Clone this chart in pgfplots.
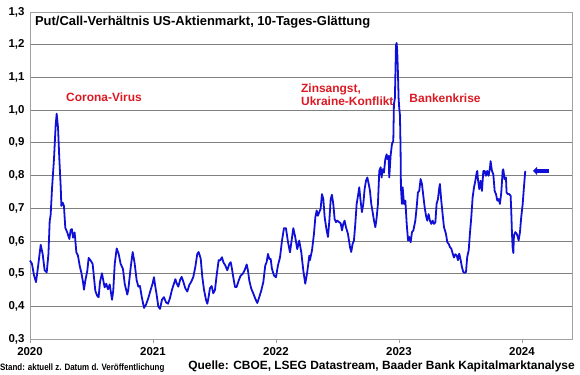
\documentclass[border=0pt]{standalone}
\usepackage{fontspec}
\setmainfont{Liberation Sans}
\usepackage{graphicx}
\usepackage{pgfplots}
\pgfplotsset{compat=1.18}
\usetikzlibrary{arrows.meta}
\definecolor{lineblue}{RGB}{15,15,215}
\definecolor{annred}{RGB}{220,25,35}
\definecolor{gridgray}{RGB}{128,128,128}
\definecolor{framegray}{RGB}{160,160,160}
\begin{document}
\begin{tikzpicture}
\begin{axis}[
  scale only axis,
  width=542bp, height=327bp,
  xmin=2020, xmax=2024.407,
  ymin=0.3, ymax=1.3,
  xtick={2020,2021,2022,2023,2024},
  xticklabels={2020,2021,2022,2023,2024},
  ytick={0.3,0.4,0.5,0.6,0.7,0.8,0.9,1.0,1.1,1.2,1.3},
  yticklabel style={/pgf/number format/fixed,/pgf/number format/fixed zerofill,/pgf/number format/precision=1,/pgf/number format/use comma,xshift=-2bp},
  /pgf/number format/assume math mode=true,
  ymajorgrids,
  major grid style={gridgray, line width=0.8pt},
  axis line style={framegray, line width=0.9pt},
  tick style={framegray, line width=0.8pt},
  xtick pos=bottom, ytick pos=left,
  xtick align=outside,
  major tick length=4bp,
  ytick style={draw=none},
  ticklabel style={font=\fontsize{11.5}{13}\selectfont\bfseries},
  xticklabel style={yshift=-1bp},
  clip=false,
]
\addplot[lineblue, line width=1.8pt, line join=round] coordinates {
(2020.000,0.54)(2020.016,0.53)(2020.033,0.494)(2020.049,0.474)(2020.065,0.52)
(2020.087,0.588)(2020.103,0.56)(2020.119,0.51)(2020.136,0.504)(2020.150,0.56)
(2020.160,0.66)(2020.168,0.68)(2020.179,0.76)(2020.195,0.85)(2020.209,0.956)
(2020.217,0.989)(2020.228,0.946)(2020.238,0.855)(2020.250,0.763)(2020.255,0.707)
(2020.266,0.717)(2020.276,0.707)(2020.287,0.64)(2020.303,0.626)(2020.320,0.606)
(2020.331,0.634)(2020.341,0.636)(2020.350,0.61)(2020.363,0.626)(2020.377,0.565)
(2020.390,0.555)(2020.404,0.524)(2020.417,0.504)(2020.431,0.474)(2020.439,0.451)
(2020.450,0.479)(2020.466,0.509)(2020.477,0.548)(2020.493,0.54)(2020.509,0.53)
(2020.520,0.489)(2020.531,0.448)(2020.545,0.433)(2020.558,0.428)(2020.569,0.474)
(2020.585,0.501)(2020.596,0.479)(2020.607,0.458)(2020.620,0.469)(2020.634,0.452)
(2020.648,0.467)(2020.667,0.42)(2020.677,0.448)(2020.689,0.53)(2020.705,0.577)
(2020.721,0.56)(2020.737,0.53)(2020.756,0.514)(2020.770,0.469)(2020.791,0.436)
(2020.799,0.45)(2020.819,0.52)(2020.835,0.566)(2020.851,0.531)(2020.867,0.48)
(2020.881,0.46)(2020.894,0.462)(2020.908,0.43)(2020.927,0.395)(2020.943,0.405)
(2020.962,0.425)(2020.981,0.45)(2020.997,0.47)(2021.008,0.489)(2021.019,0.46)
(2021.030,0.435)(2021.043,0.4)(2021.057,0.392)(2021.073,0.42)(2021.089,0.428)
(2021.106,0.412)(2021.122,0.408)(2021.138,0.425)(2021.154,0.45)(2021.171,0.47)
(2021.182,0.483)(2021.193,0.47)(2021.206,0.46)(2021.220,0.48)(2021.233,0.49)
(2021.247,0.475)(2021.263,0.455)(2021.279,0.445)(2021.295,0.465)(2021.311,0.475)
(2021.328,0.49)(2021.344,0.52)(2021.360,0.56)(2021.371,0.566)(2021.388,0.546)
(2021.401,0.49)(2021.415,0.45)(2021.431,0.42)(2021.442,0.408)(2021.453,0.43)
(2021.463,0.455)(2021.477,0.462)(2021.490,0.44)(2021.504,0.45)(2021.518,0.496)
(2021.534,0.541)(2021.545,0.54)(2021.561,0.55)(2021.572,0.535)(2021.588,0.525)
(2021.604,0.51)(2021.621,0.53)(2021.632,0.535)(2021.642,0.515)(2021.653,0.489)
(2021.667,0.459)(2021.680,0.459)(2021.697,0.479)(2021.713,0.494)(2021.729,0.499)
(2021.745,0.51)(2021.762,0.528)(2021.772,0.51)(2021.783,0.479)(2021.799,0.454)
(2021.816,0.439)(2021.832,0.423)(2021.848,0.41)(2021.864,0.428)(2021.881,0.449)
(2021.897,0.474)(2021.913,0.525)(2021.924,0.535)(2021.935,0.56)(2021.946,0.545)
(2021.957,0.545)(2021.967,0.515)(2021.984,0.494)(2022.000,0.489)(2022.016,0.525)
(2022.033,0.55)(2022.049,0.601)(2022.065,0.639)(2022.081,0.639)(2022.098,0.596)
(2022.114,0.565)(2022.127,0.601)(2022.141,0.639)(2022.157,0.611)(2022.173,0.575)
(2022.189,0.601)(2022.206,0.565)(2022.222,0.51)(2022.238,0.469)(2022.254,0.504)
(2022.271,0.555)(2022.276,0.541)(2022.293,0.571)(2022.309,0.622)(2022.320,0.672)
(2022.331,0.693)(2022.341,0.677)(2022.352,0.688)(2022.363,0.698)(2022.374,0.743)
(2022.385,0.728)(2022.396,0.672)(2022.412,0.632)(2022.423,0.612)(2022.434,0.662)
(2022.445,0.728)(2022.455,0.741)(2022.466,0.713)(2022.477,0.667)(2022.488,0.657)
(2022.498,0.662)(2022.515,0.657)(2022.526,0.654)(2022.537,0.632)(2022.547,0.652)
(2022.558,0.662)(2022.569,0.642)(2022.585,0.622)(2022.602,0.581)(2022.612,0.566)
(2022.623,0.591)(2022.634,0.601)(2022.645,0.652)(2022.656,0.713)(2022.669,0.743)
(2022.677,0.764)(2022.688,0.723)(2022.699,0.688)(2022.710,0.713)(2022.721,0.759)
(2022.732,0.784)(2022.743,0.794)(2022.754,0.774)(2022.764,0.754)(2022.775,0.713)
(2022.786,0.688)(2022.797,0.662)(2022.808,0.642)(2022.819,0.672)(2022.829,0.713)
(2022.840,0.814)(2022.851,0.825)(2022.859,0.794)(2022.867,0.819)(2022.878,0.809)
(2022.889,0.85)(2022.900,0.865)(2022.905,0.85)(2022.916,0.86)(2022.921,0.794)
(2022.932,0.86)(2022.943,0.896)(2022.954,0.906)(2022.959,1.017)(2022.967,1.037)
(2022.976,1.2)(2022.981,1.205)(2022.986,1.18)(2022.992,1.11)(2022.997,1.037)
(2023.002,1.007)(2023.008,0.985)(2023.013,0.885)(2023.016,0.764)(2023.024,0.713)
(2023.030,0.764)(2023.041,0.713)(2023.052,0.723)(2023.063,0.652)(2023.074,0.601)
(2023.084,0.612)(2023.095,0.596)(2023.106,0.627)(2023.117,0.632)(2023.133,0.662)
(2023.144,0.703)(2023.154,0.748)(2023.165,0.753)(2023.176,0.789)(2023.187,0.774)
(2023.198,0.738)(2023.209,0.703)(2023.220,0.677)(2023.230,0.662)(2023.241,0.682)
(2023.252,0.662)(2023.263,0.652)(2023.274,0.662)(2023.285,0.652)(2023.296,0.657)
(2023.306,0.713)(2023.317,0.728)(2023.328,0.763)(2023.333,0.774)(2023.344,0.723)
(2023.355,0.682)(2023.366,0.642)(2023.382,0.622)(2023.393,0.596)(2023.404,0.591)
(2023.415,0.581)(2023.426,0.576)(2023.437,0.561)(2023.447,0.549)(2023.458,0.559)
(2023.469,0.556)(2023.480,0.541)(2023.490,0.561)(2023.502,0.541)(2023.512,0.52)
(2023.523,0.505)(2023.534,0.502)(2023.545,0.505)(2023.555,0.551)(2023.567,0.571)
(2023.577,0.622)(2023.588,0.672)(2023.599,0.733)(2023.610,0.763)(2023.621,0.784)
(2023.632,0.809)(2023.637,0.814)(2023.642,0.789)(2023.653,0.758)(2023.664,0.784)
(2023.675,0.753)(2023.686,0.814)(2023.697,0.814)(2023.707,0.799)(2023.718,0.814)
(2023.729,0.799)(2023.740,0.824)(2023.745,0.844)(2023.756,0.814)(2023.767,0.804)
(2023.778,0.753)(2023.789,0.743)(2023.800,0.723)(2023.811,0.728)(2023.821,0.713)
(2023.832,0.748)(2023.843,0.814)(2023.848,0.819)(2023.859,0.789)(2023.870,0.794)
(2023.875,0.748)(2023.886,0.743)(2023.897,0.743)(2023.908,0.738)(2023.913,0.692)
(2023.919,0.622)(2023.924,0.581)(2023.930,0.563)(2023.935,0.617)(2023.946,0.627)
(2023.957,0.622)(2023.967,0.611)(2023.973,0.601)(2023.984,0.627)(2023.994,0.672)
(2024.006,0.713)(2024.016,0.763)(2024.027,0.814)
};
\draw[lineblue, line width=3.2pt, -{Triangle[length=4bp,width=8bp]}] (axis cs:2024.22,0.814) -- (axis cs:2024.09,0.814);
\node[anchor=west, inner sep=0pt, font=\fontsize{13}{15}\selectfont\bfseries] at (rel axis cs:0.009,0.969) {Put/Call-Verhältnis US-Aktienmarkt, 10-Tages-Glättung};
\node[anchor=west, inner sep=0pt, text=annred, font=\fontsize{12}{14}\selectfont\bfseries] at (axis cs:2020.293,1.039) {Corona-Virus};
\node[anchor=west, inner sep=0pt, align=left, text=annred, font=\fontsize{12}{13.5}\selectfont\bfseries] at (axis cs:2022.203,1.047) {Zinsangst,\\Ukraine-Konflikt};
\node[anchor=west, inner sep=0pt, text=annred, font=\fontsize{12}{14}\selectfont\bfseries] at (axis cs:2023.084,1.035) {Bankenkrise};
\node[anchor=west, inner sep=0pt, font=\fontsize{9.3}{11}\selectfont\bfseries] at (rel axis cs:-0.0554,-0.0887) {\scalebox{0.86}[1]{Stand: aktuell z. Datum d. Veröffentlichung}};
\node[anchor=east, inner sep=0pt, font=\fontsize{12}{14}\selectfont\bfseries] at (rel axis cs:1.0055,-0.0826) {Quelle: CBOE, LSEG Datastream, Baader Bank Kapitalmarktanalyse};
\end{axis}
\pgfresetboundingbox
\path[use as bounding box] ([xshift=-30bp,yshift=-36bp]current axis.south west) rectangle ([xshift=8bp,yshift=12bp]current axis.north east);
\end{tikzpicture}
\end{document}
